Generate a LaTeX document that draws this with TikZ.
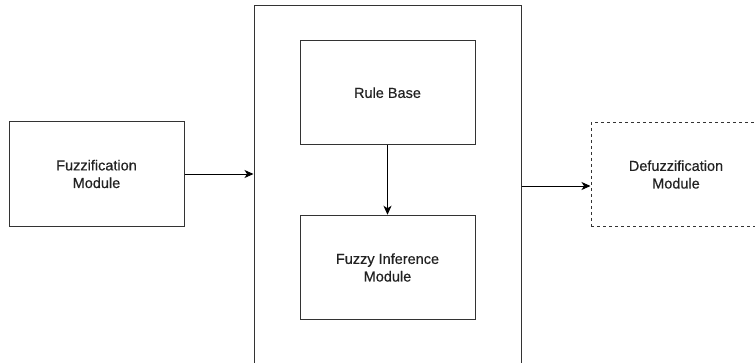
\documentclass[tikz,border=0pt]{standalone}
\usepackage{fontspec}
\setmainfont{Liberation Sans}[FakeBold=0.5]
\usetikzlibrary{arrows.meta}
\definecolor{edge}{HTML}{333333}
\definecolor{label}{HTML}{222222}
\tikzset{
  module/.style={draw=edge, line width=1pt, rectangle, minimum width=175pt,
    minimum height=104.5pt, inner sep=0pt, align=center, text=label,
    font=\fontsize{14.5pt}{17.6pt}\selectfont},
  dashmodule/.style={module, dash pattern=on 3pt off 3pt},
  frame/.style={draw=edge, line width=1pt, rectangle, inner sep=0pt},
  link/.style={draw=black, line width=1pt,
    -{Stealth[length=9pt,width=8pt,inset=2.5pt]}}
}
\begin{document}
\begin{tikzpicture}[x=1pt,y=-1pt]
  \useasboundingbox (0,0) rectangle (755,362);
  \begin{scope}
    \clip (0,0) rectangle (755,362);
    % outer inference block (its lower edge runs past the page)
    \node[frame, minimum width=267pt, minimum height=380pt] (core) at (387.5,195) {};
    \node[module] (fuzz) at (96.5,174) {Fuzzification\\Module};
    \node[module] (rules) at (387.5,92.7) {Rule Base};
    \node[module] (infer) at (387.5,267.5) {Fuzzy Inference\\Module};
    \node[dashmodule, minimum width=170pt] (defuzz) at (676,174.5) {Defuzzification\\Module};
    \coordinate (inL) at (core.west |- fuzz.east);
    \coordinate (outR) at (core.east |- 0,186);
    \draw[link] (fuzz.east) -- (inL);
    \draw[link] (rules.south) -- (infer.north);
    \draw[link] (outR) -- (defuzz.west |- outR);
  \end{scope}
\end{tikzpicture}
\end{document}
